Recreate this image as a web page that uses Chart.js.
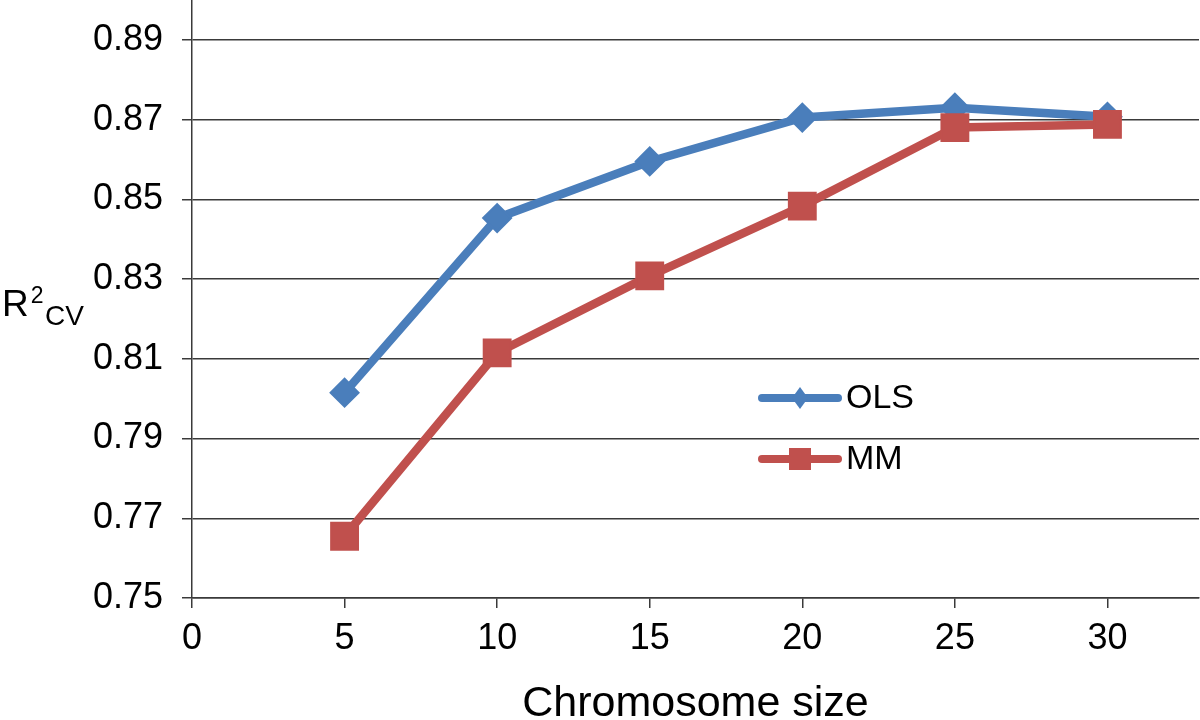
<!DOCTYPE html>
<html>
<head>
<meta charset="utf-8">
<script src="https://cdn.jsdelivr.net/npm/chart.js@4.4.0/dist/chart.umd.min.js"></script>
<style>
  html, body { margin: 0; padding: 0; background: #fff; }
  #wrap { width: 1200px; height: 720px; }
</style>
</head>
<body>
<div id="wrap"><canvas id="r2Chart"></canvas></div>
<script>
// chromosome size (x) for each run
const chromosomeSizes = [5, 10, 15, 20, 25, 30];
// cross-validated R2 per method
const olsValues = [0.8015, 0.8453, 0.8595, 0.8705, 0.8730, 0.8707];
const mmValues = [0.7655, 0.8115, 0.8308, 0.8483, 0.8680, 0.8688];
const seriesNames = ['OLS', 'MM'];
// tick labels
const xTicks = [0, 5, 10, 15, 20, 25, 30];
const yTicks = [0.75, 0.77, 0.79, 0.81, 0.83, 0.85, 0.87, 0.89];

const blue = '#4a7ebb';
const red = '#c0504d';
const axisColor = '#3a3a3a';
const fontFamily = '"Liberation Sans", Arial, Helvetica, sans-serif';

const toPoints = vals => chromosomeSizes.map((x, i) => ({ x: x, y: vals[i] }));

// y title (R²CV with sub/superscript) and the legend inside the plot
const extrasPlugin = {
    id: 'extras',
    afterDraw(chart) {
        const ctx = chart.ctx;
        ctx.save();
        ctx.fillStyle = '#000';
        ctx.textBaseline = 'alphabetic';
        ctx.textAlign = 'left';
        ctx.font = '37px ' + fontFamily;
        ctx.fillText('R', 2, 316);
        const rw = ctx.measureText('R').width;
        ctx.font = '23px ' + fontFamily;
        ctx.fillText('2', 2 + rw + 2, 303);
        ctx.font = '28px ' + fontFamily;
        ctx.fillText('CV', 45, 325);

        // legend
        const rows = [
            { name: seriesNames[0], color: blue, shape: 'diamond', y: 398 },
            { name: seriesNames[1], color: red, shape: 'square', y: 459 }
        ];
        rows.forEach(r => {
            ctx.strokeStyle = r.color;
            ctx.lineWidth = 8;
            ctx.lineCap = 'round';
            ctx.beginPath();
            ctx.moveTo(762, r.y);
            ctx.lineTo(838, r.y);
            ctx.stroke();
            ctx.fillStyle = r.color;
            ctx.beginPath();
            if (r.shape === 'diamond') {
                ctx.moveTo(800, r.y - 11);
                ctx.lineTo(808, r.y);
                ctx.lineTo(800, r.y + 11);
                ctx.lineTo(792, r.y);
                ctx.closePath();
            } else {
                ctx.rect(789, r.y - 11, 22, 22);
            }
            ctx.fill();
            ctx.fillStyle = '#000';
            ctx.font = '34px ' + fontFamily;
            ctx.textBaseline = 'middle';
            ctx.fillText(r.name, 846, r.y + 1);
        });
        ctx.restore();
    }
};

const ctx = document.getElementById('r2Chart').getContext('2d');
const r2Chart = new Chart(ctx, {
    type: 'scatter',
    data: {
        datasets: [
            {
                label: seriesNames[1], data: toPoints(mmValues), showLine: true,
                borderColor: red, backgroundColor: red, borderWidth: 8.5,
                borderJoinStyle: 'round', borderCapStyle: 'round',
                pointStyle: 'rect', pointRadius: 19, pointBorderWidth: 2,
                pointBorderColor: red, pointBackgroundColor: red, order: 0
            },
            {
                label: seriesNames[0], data: toPoints(olsValues), showLine: true,
                borderColor: blue, backgroundColor: blue, borderWidth: 8.5,
                borderJoinStyle: 'round', borderCapStyle: 'round',
                pointStyle: 'rectRot', pointRadius: 14, pointBorderWidth: 2,
                pointBorderColor: blue, pointBackgroundColor: blue, order: 1
            }
        ]
    },
    options: {
        responsive: true,
        maintainAspectRatio: false,
        animation: false,
        events: [],
        layout: { autoPadding: false, padding: { top: 0, right: 1, bottom: 0, left: 0 } },
        plugins: { legend: { display: false }, tooltip: { enabled: false } },
        scales: {
            x: {
                type: 'linear', min: 0, max: 33,
                afterBuildTicks: axis => { axis.ticks = xTicks.map(v => ({ value: v })); },
                afterFit: axis => { axis.height = 122; axis.paddingLeft = 0; axis.paddingRight = 0; },
                ticks: { padding: 9, color: '#000', maxRotation: 0, autoSkip: false, font: { family: fontFamily, size: 36 } },
                grid: { drawOnChartArea: false, color: axisColor, lineWidth: 1.5, tickLength: 10 },
                border: { color: axisColor, width: 1.5 },
                title: { display: true, text: 'Chromosome size', color: '#000', padding: 0, font: { family: fontFamily, size: 43, lineHeight: 0.75 } }
            },
            y: {
                type: 'linear', min: 0.75, max: 0.90,
                afterBuildTicks: axis => { axis.ticks = yTicks.map(v => ({ value: v })); },
                afterFit: axis => { axis.width = 192; axis.paddingTop = 0; axis.paddingBottom = 0; },
                ticks: { padding: 19, color: '#000', font: { family: fontFamily, size: 36 }, callback: v => Number(v).toFixed(2) },
                grid: { color: axisColor, lineWidth: 1.5, tickLength: 10 },
                border: { color: axisColor, width: 1.5 }
            }
        }
    },
    plugins: [extrasPlugin]
});
</script>
</body>
</html>
